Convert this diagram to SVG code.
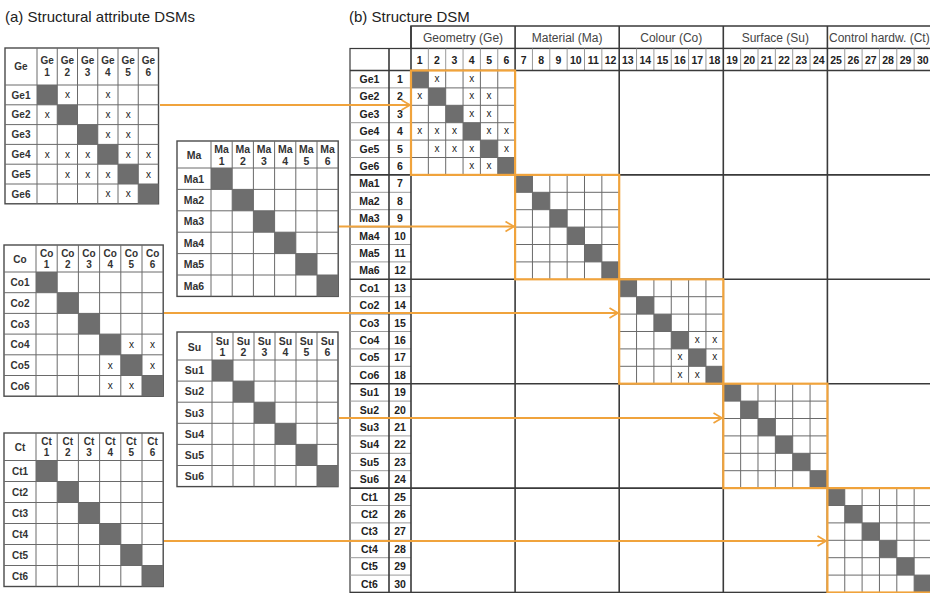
<svg xmlns="http://www.w3.org/2000/svg" xmlns:xlink="http://www.w3.org/1999/xlink" width="930" height="593" viewBox="0 0 930 593">
<style>
text{font-family:"Liberation Sans",Arial,sans-serif;fill:#2a2a2a}
.title{font-size:15px;fill:#222}
.s{font-size:10px;font-weight:bold;text-anchor:middle;fill:#333}
.m{font-size:10.5px;font-weight:bold;text-anchor:middle;fill:#333}
.n{font-size:10.5px;font-weight:bold;text-anchor:middle;fill:#222}
.x{font-size:10px;text-anchor:middle;fill:#222}
.hdr{font-size:12px;text-anchor:middle;fill:#444}
.grid{stroke:#6a6a6a;stroke-width:1;fill:none}
.lgrid{stroke:#9a9a9a;stroke-width:1;fill:none}
.frame{stroke:#4a4a4a;stroke-width:1.4;fill:#fff}
.dark{stroke:#3a3a3a;stroke-width:1.6;fill:none}
.sh{fill:#6e6e6e}
.arr{stroke:#F0A33C;stroke-width:1.8;fill:none;marker-end:url(#ah)}
</style>
<defs>
<marker id="ah" markerUnits="userSpaceOnUse" markerWidth="11" markerHeight="12" refX="9.5" refY="6" orient="auto"><path d="M1,1 L9.5,6 L1,11" fill="none" stroke="#F0A33C" stroke-width="1.7"/></marker>
<g id="blk">
<rect width="104.1" height="104.4" fill="#fff"/>
<rect x="0" y="0" width="17.35" height="17.4" fill="#6e6e6e"/>
<rect x="17.35" y="17.4" width="17.35" height="17.4" fill="#6e6e6e"/>
<rect x="34.7" y="34.8" width="17.35" height="17.4" fill="#6e6e6e"/>
<rect x="52.05" y="52.2" width="17.35" height="17.4" fill="#6e6e6e"/>
<rect x="69.4" y="69.6" width="17.35" height="17.4" fill="#6e6e6e"/>
<rect x="86.75" y="87" width="17.35" height="17.4" fill="#6e6e6e"/>
<path d="M17.35,0V104.4M34.7,0V104.4M52.05,0V104.4M69.4,0V104.4M86.75,0V104.4M0,17.4H104.1M0,34.8H104.1M0,52.2H104.1M0,69.6H104.1M0,87H104.1" stroke="#6a6a6a" stroke-width="1" fill="none"/>
<rect width="104.1" height="104.4" fill="none" stroke="#F0A33C" stroke-width="2.2"/>
</g>
</defs>
<rect width="930" height="593" fill="#fff"/>
<text class="title" x="5" y="21.5">(a) Structural attribute DSMs</text>
<text class="title" x="349" y="21.5">(b) Structure DSM</text>

<g id="dsm-ge" transform="translate(5,48)">
<rect class="frame" width="153.5" height="155.8"/>
<rect class="sh" x="32" y="37" width="20.25" height="19.8"/>
<rect class="sh" x="52.25" y="56.8" width="20.25" height="19.8"/>
<rect class="sh" x="72.5" y="76.6" width="20.25" height="19.8"/>
<rect class="sh" x="92.75" y="96.4" width="20.25" height="19.8"/>
<rect class="sh" x="113" y="116.2" width="20.25" height="19.8"/>
<rect class="sh" x="133.25" y="136" width="20.25" height="19.8"/>
<path class="grid" d="M32,0V155.8M52.25,0V155.8M72.5,0V155.8M92.75,0V155.8M113,0V155.8M133.25,0V155.8M0,37H153.5M0,56.8H153.5M0,76.6H153.5M0,96.4H153.5M0,116.2H153.5M0,136H153.5"/>
<text class="s" x="16" y="22">Ge</text>
<text class="s"><tspan x="42.13" y="16">Ge</tspan><tspan x="42.13" y="28">1</tspan></text>
<text class="s"><tspan x="62.38" y="16">Ge</tspan><tspan x="62.38" y="28">2</tspan></text>
<text class="s"><tspan x="82.63" y="16">Ge</tspan><tspan x="82.63" y="28">3</tspan></text>
<text class="s"><tspan x="102.88" y="16">Ge</tspan><tspan x="102.88" y="28">4</tspan></text>
<text class="s"><tspan x="123.13" y="16">Ge</tspan><tspan x="123.13" y="28">5</tspan></text>
<text class="s"><tspan x="143.38" y="16">Ge</tspan><tspan x="143.38" y="28">6</tspan></text>
<text class="s" x="16" y="50.6">Ge1</text>
<text class="s" x="16" y="70.4">Ge2</text>
<text class="s" x="16" y="90.2">Ge3</text>
<text class="s" x="16" y="110">Ge4</text>
<text class="s" x="16" y="129.8">Ge5</text>
<text class="s" x="16" y="149.6">Ge6</text>
<text class="x" x="62.38" y="50.4">x</text><text class="x" x="102.88" y="50.4">x</text>
<text class="x" x="42.13" y="70.2">x</text><text class="x" x="102.88" y="70.2">x</text><text class="x" x="123.13" y="70.2">x</text>
<text class="x" x="102.88" y="90">x</text><text class="x" x="123.13" y="90">x</text>
<text class="x" x="42.13" y="109.8">x</text><text class="x" x="62.38" y="109.8">x</text><text class="x" x="82.63" y="109.8">x</text><text class="x" x="123.13" y="109.8">x</text><text class="x" x="143.38" y="109.8">x</text>
<text class="x" x="62.38" y="129.6">x</text><text class="x" x="82.63" y="129.6">x</text><text class="x" x="102.88" y="129.6">x</text><text class="x" x="143.38" y="129.6">x</text>
<text class="x" x="102.88" y="149.4">x</text><text class="x" x="123.13" y="149.4">x</text>
</g>

<g id="dsm-ma" transform="translate(177,141)">
<rect class="frame" width="161.2" height="155.4"/>
<rect class="sh" x="34" y="27" width="21.2" height="21.4"/>
<rect class="sh" x="55.2" y="48.4" width="21.2" height="21.4"/>
<rect class="sh" x="76.4" y="69.8" width="21.2" height="21.4"/>
<rect class="sh" x="97.6" y="91.2" width="21.2" height="21.4"/>
<rect class="sh" x="118.8" y="112.6" width="21.2" height="21.4"/>
<rect class="sh" x="140" y="134" width="21.2" height="21.4"/>
<path class="grid" d="M34,0V155.4M55.2,0V155.4M76.4,0V155.4M97.6,0V155.4M118.8,0V155.4M140,0V155.4M0,27H161.2M0,48.4H161.2M0,69.8H161.2M0,91.2H161.2M0,112.6H161.2M0,134H161.2"/>
<text class="m" x="17" y="18">Ma</text>
<text class="m"><tspan x="44.6" y="12">Ma</tspan><tspan x="44.6" y="23.5">1</tspan></text>
<text class="m"><tspan x="65.8" y="12">Ma</tspan><tspan x="65.8" y="23.5">2</tspan></text>
<text class="m"><tspan x="87" y="12">Ma</tspan><tspan x="87" y="23.5">3</tspan></text>
<text class="m"><tspan x="108.2" y="12">Ma</tspan><tspan x="108.2" y="23.5">4</tspan></text>
<text class="m"><tspan x="129.4" y="12">Ma</tspan><tspan x="129.4" y="23.5">5</tspan></text>
<text class="m"><tspan x="150.6" y="12">Ma</tspan><tspan x="150.6" y="23.5">6</tspan></text>
<text class="m" x="17" y="41.5">Ma1</text>
<text class="m" x="17" y="62.9">Ma2</text>
<text class="m" x="17" y="84.3">Ma3</text>
<text class="m" x="17" y="105.7">Ma4</text>
<text class="m" x="17" y="127.1">Ma5</text>
<text class="m" x="17" y="148.5">Ma6</text>
</g>

<g id="dsm-co" transform="translate(4,245)">
<rect class="frame" width="159.2" height="151.2"/>
<rect class="sh" x="32" y="27" width="21.2" height="20.7"/>
<rect class="sh" x="53.2" y="47.7" width="21.2" height="20.7"/>
<rect class="sh" x="74.4" y="68.4" width="21.2" height="20.7"/>
<rect class="sh" x="95.6" y="89.1" width="21.2" height="20.7"/>
<rect class="sh" x="116.8" y="109.8" width="21.2" height="20.7"/>
<rect class="sh" x="138" y="130.5" width="21.2" height="20.7"/>
<path class="grid" d="M32,0V151.2M53.2,0V151.2M74.4,0V151.2M95.6,0V151.2M116.8,0V151.2M138,0V151.2M0,27H159.2M0,47.7H159.2M0,68.4H159.2M0,89.1H159.2M0,109.8H159.2M0,130.5H159.2"/>
<text class="s" x="16" y="17.5">Co</text>
<text class="s"><tspan x="42.6" y="11.5">Co</tspan><tspan x="42.6" y="22.5">1</tspan></text>
<text class="s"><tspan x="63.8" y="11.5">Co</tspan><tspan x="63.8" y="22.5">2</tspan></text>
<text class="s"><tspan x="85" y="11.5">Co</tspan><tspan x="85" y="22.5">3</tspan></text>
<text class="s"><tspan x="106.2" y="11.5">Co</tspan><tspan x="106.2" y="22.5">4</tspan></text>
<text class="s"><tspan x="127.4" y="11.5">Co</tspan><tspan x="127.4" y="22.5">5</tspan></text>
<text class="s"><tspan x="148.6" y="11.5">Co</tspan><tspan x="148.6" y="22.5">6</tspan></text>
<text class="s" x="16" y="41.1">Co1</text>
<text class="s" x="16" y="61.8">Co2</text>
<text class="s" x="16" y="82.5">Co3</text>
<text class="s" x="16" y="103.2">Co4</text>
<text class="s" x="16" y="123.9">Co5</text>
<text class="s" x="16" y="144.6">Co6</text>
<text class="x" x="127.4" y="103">x</text><text class="x" x="148.6" y="103">x</text>
<text class="x" x="106.2" y="123.7">x</text><text class="x" x="148.6" y="123.7">x</text>
<text class="x" x="106.2" y="144.4">x</text><text class="x" x="127.4" y="144.4">x</text>
</g>

<g id="dsm-su" transform="translate(177,332)">
<rect class="frame" width="161" height="154.6"/>
<rect class="sh" x="35" y="28" width="21" height="21.1"/>
<rect class="sh" x="56" y="49.1" width="21" height="21.1"/>
<rect class="sh" x="77" y="70.2" width="21" height="21.1"/>
<rect class="sh" x="98" y="91.3" width="21" height="21.1"/>
<rect class="sh" x="119" y="112.4" width="21" height="21.1"/>
<rect class="sh" x="140" y="133.5" width="21" height="21.1"/>
<path class="grid" d="M35,0V154.6M56,0V154.6M77,0V154.6M98,0V154.6M119,0V154.6M140,0V154.6M0,28H161M0,49.1H161M0,70.2H161M0,91.3H161M0,112.4H161M0,133.5H161"/>
<text class="m" x="17.5" y="19">Su</text>
<text class="m"><tspan x="45.5" y="12.5">Su</tspan><tspan x="45.5" y="24">1</tspan></text>
<text class="m"><tspan x="66.5" y="12.5">Su</tspan><tspan x="66.5" y="24">2</tspan></text>
<text class="m"><tspan x="87.5" y="12.5">Su</tspan><tspan x="87.5" y="24">3</tspan></text>
<text class="m"><tspan x="108.5" y="12.5">Su</tspan><tspan x="108.5" y="24">4</tspan></text>
<text class="m"><tspan x="129.5" y="12.5">Su</tspan><tspan x="129.5" y="24">5</tspan></text>
<text class="m"><tspan x="150.5" y="12.5">Su</tspan><tspan x="150.5" y="24">6</tspan></text>
<text class="m" x="17.5" y="42.3">Su1</text>
<text class="m" x="17.5" y="63.4">Su2</text>
<text class="m" x="17.5" y="84.5">Su3</text>
<text class="m" x="17.5" y="105.6">Su4</text>
<text class="m" x="17.5" y="126.7">Su5</text>
<text class="m" x="17.5" y="147.8">Su6</text>
</g>

<g id="dsm-ct" transform="translate(4,433)">
<rect class="frame" width="159.2" height="153.5"/>
<rect class="sh" x="32" y="27.5" width="21.2" height="21"/>
<rect class="sh" x="53.2" y="48.5" width="21.2" height="21"/>
<rect class="sh" x="74.4" y="69.5" width="21.2" height="21"/>
<rect class="sh" x="95.6" y="90.5" width="21.2" height="21"/>
<rect class="sh" x="116.8" y="111.5" width="21.2" height="21"/>
<rect class="sh" x="138" y="132.5" width="21.2" height="21"/>
<path class="grid" d="M32,0V153.5M53.2,0V153.5M74.4,0V153.5M95.6,0V153.5M116.8,0V153.5M138,0V153.5M0,27.5H159.2M0,48.5H159.2M0,69.5H159.2M0,90.5H159.2M0,111.5H159.2M0,132.5H159.2"/>
<text class="s" x="16" y="18">Ct</text>
<text class="s"><tspan x="42.6" y="11.5">Ct</tspan><tspan x="42.6" y="23">1</tspan></text>
<text class="s"><tspan x="63.8" y="11.5">Ct</tspan><tspan x="63.8" y="23">2</tspan></text>
<text class="s"><tspan x="85" y="11.5">Ct</tspan><tspan x="85" y="23">3</tspan></text>
<text class="s"><tspan x="106.2" y="11.5">Ct</tspan><tspan x="106.2" y="23">4</tspan></text>
<text class="s"><tspan x="127.4" y="11.5">Ct</tspan><tspan x="127.4" y="23">5</tspan></text>
<text class="s"><tspan x="148.6" y="11.5">Ct</tspan><tspan x="148.6" y="23">6</tspan></text>
<text class="s" x="16" y="41.7">Ct1</text>
<text class="s" x="16" y="62.7">Ct2</text>
<text class="s" x="16" y="83.7">Ct3</text>
<text class="s" x="16" y="104.7">Ct4</text>
<text class="s" x="16" y="125.7">Ct5</text>
<text class="s" x="16" y="146.7">Ct6</text>
</g>

<g id="structure-dsm">
<rect x="411" y="26" width="520.5" height="22.5" fill="#fff" stroke="#3a3a3a" stroke-width="1.5"/>
<rect x="350" y="48.5" width="581.5" height="544" fill="#fff" stroke="#3a3a3a" stroke-width="1.2"/>
<path class="lgrid" d="M428.35,48.5V70.5M445.7,48.5V70.5M463.05,48.5V70.5M480.4,48.5V70.5M497.75,48.5V70.5M532.45,48.5V70.5M549.8,48.5V70.5M567.15,48.5V70.5M584.5,48.5V70.5M601.85,48.5V70.5M636.55,48.5V70.5M653.9,48.5V70.5M671.25,48.5V70.5M688.6,48.5V70.5M705.95,48.5V70.5M740.65,48.5V70.5M758,48.5V70.5M775.35,48.5V70.5M792.7,48.5V70.5M810.05,48.5V70.5M844.75,48.5V70.5M862.1,48.5V70.5M879.45,48.5V70.5M896.8,48.5V70.5M914.15,48.5V70.5"/>
<path class="lgrid" d="M350,87.9H411M350,105.3H411M350,122.7H411M350,140.1H411M350,157.5H411M350,192.3H411M350,209.7H411M350,227.1H411M350,244.5H411M350,261.9H411M350,296.7H411M350,314.1H411M350,331.5H411M350,348.9H411M350,366.3H411M350,401.1H411M350,418.5H411M350,435.9H411M350,453.3H411M350,470.7H411M350,505.5H411M350,522.9H411M350,540.3H411M350,557.7H411M350,575.1H411"/>
<path class="dark" d="M389,48.5V592.5M411,26V592.5M515.1,26V592.5M619.2,26V592.5M723.3,26V592.5M827.4,26V592.5M350,70.5H931.5M350,174.9H931.5M350,279.3H931.5M350,383.7H931.5M350,488.1H931.5M350,592.5H931.5"/>
<text class="hdr" x="463.05" y="42">Geometry (Ge)</text>
<text class="hdr" x="567.15" y="42">Material (Ma)</text>
<text class="hdr" x="671.25" y="42">Colour (Co)</text>
<text class="hdr" x="775.35" y="42">Surface (Su)</text>
<text class="hdr" x="829" y="42" style="text-anchor:start">Control hardw. (Ct)</text>
<text class="n" x="419.68" y="64">1</text><text class="n" x="437.03" y="64">2</text><text class="n" x="454.38" y="64">3</text><text class="n" x="471.73" y="64">4</text><text class="n" x="489.08" y="64">5</text><text class="n" x="506.43" y="64">6</text>
<text class="n" x="523.78" y="64">7</text><text class="n" x="541.13" y="64">8</text><text class="n" x="558.48" y="64">9</text><text class="n" x="575.83" y="64">10</text><text class="n" x="593.18" y="64">11</text><text class="n" x="610.53" y="64">12</text>
<text class="n" x="627.88" y="64">13</text><text class="n" x="645.23" y="64">14</text><text class="n" x="662.58" y="64">15</text><text class="n" x="679.93" y="64">16</text><text class="n" x="697.28" y="64">17</text><text class="n" x="714.63" y="64">18</text>
<text class="n" x="731.98" y="64">19</text><text class="n" x="749.33" y="64">20</text><text class="n" x="766.68" y="64">21</text><text class="n" x="784.03" y="64">22</text><text class="n" x="801.38" y="64">23</text><text class="n" x="818.73" y="64">24</text>
<text class="n" x="836.08" y="64">25</text><text class="n" x="853.43" y="64">26</text><text class="n" x="870.78" y="64">27</text><text class="n" x="888.13" y="64">28</text><text class="n" x="905.48" y="64">29</text><text class="n" x="922.83" y="64">30</text>
<text class="n" x="369.5" y="83">Ge1</text><text class="n" x="400" y="83">1</text>
<text class="n" x="369.5" y="100.4">Ge2</text><text class="n" x="400" y="100.4">2</text>
<text class="n" x="369.5" y="117.8">Ge3</text><text class="n" x="400" y="117.8">3</text>
<text class="n" x="369.5" y="135.2">Ge4</text><text class="n" x="400" y="135.2">4</text>
<text class="n" x="369.5" y="152.6">Ge5</text><text class="n" x="400" y="152.6">5</text>
<text class="n" x="369.5" y="170">Ge6</text><text class="n" x="400" y="170">6</text>
<text class="n" x="369.5" y="187.4">Ma1</text><text class="n" x="400" y="187.4">7</text>
<text class="n" x="369.5" y="204.8">Ma2</text><text class="n" x="400" y="204.8">8</text>
<text class="n" x="369.5" y="222.2">Ma3</text><text class="n" x="400" y="222.2">9</text>
<text class="n" x="369.5" y="239.6">Ma4</text><text class="n" x="400" y="239.6">10</text>
<text class="n" x="369.5" y="257">Ma5</text><text class="n" x="400" y="257">11</text>
<text class="n" x="369.5" y="274.4">Ma6</text><text class="n" x="400" y="274.4">12</text>
<text class="n" x="369.5" y="291.8">Co1</text><text class="n" x="400" y="291.8">13</text>
<text class="n" x="369.5" y="309.2">Co2</text><text class="n" x="400" y="309.2">14</text>
<text class="n" x="369.5" y="326.6">Co3</text><text class="n" x="400" y="326.6">15</text>
<text class="n" x="369.5" y="344">Co4</text><text class="n" x="400" y="344">16</text>
<text class="n" x="369.5" y="361.4">Co5</text><text class="n" x="400" y="361.4">17</text>
<text class="n" x="369.5" y="378.8">Co6</text><text class="n" x="400" y="378.8">18</text>
<text class="n" x="369.5" y="396.2">Su1</text><text class="n" x="400" y="396.2">19</text>
<text class="n" x="369.5" y="413.6">Su2</text><text class="n" x="400" y="413.6">20</text>
<text class="n" x="369.5" y="431">Su3</text><text class="n" x="400" y="431">21</text>
<text class="n" x="369.5" y="448.4">Su4</text><text class="n" x="400" y="448.4">22</text>
<text class="n" x="369.5" y="465.8">Su5</text><text class="n" x="400" y="465.8">23</text>
<text class="n" x="369.5" y="483.2">Su6</text><text class="n" x="400" y="483.2">24</text>
<text class="n" x="369.5" y="500.6">Ct1</text><text class="n" x="400" y="500.6">25</text>
<text class="n" x="369.5" y="518">Ct2</text><text class="n" x="400" y="518">26</text>
<text class="n" x="369.5" y="535.4">Ct3</text><text class="n" x="400" y="535.4">27</text>
<text class="n" x="369.5" y="552.8">Ct4</text><text class="n" x="400" y="552.8">28</text>
<text class="n" x="369.5" y="570.2">Ct5</text><text class="n" x="400" y="570.2">29</text>
<text class="n" x="369.5" y="587.6">Ct6</text><text class="n" x="400" y="587.6">30</text>
</g>

<g id="block-ge">
<use href="#blk" xlink:href="#blk" x="411" y="70.5"/>
<text class="x" x="437.03" y="82">x</text><text class="x" x="471.73" y="82">x</text>
<text class="x" x="419.68" y="99.4">x</text><text class="x" x="471.73" y="99.4">x</text><text class="x" x="489.08" y="99.4">x</text>
<text class="x" x="471.73" y="116.8">x</text><text class="x" x="489.08" y="116.8">x</text>
<text class="x" x="419.68" y="134.2">x</text><text class="x" x="437.03" y="134.2">x</text><text class="x" x="454.38" y="134.2">x</text><text class="x" x="489.08" y="134.2">x</text><text class="x" x="506.43" y="134.2">x</text>
<text class="x" x="437.03" y="151.6">x</text><text class="x" x="454.38" y="151.6">x</text><text class="x" x="471.73" y="151.6">x</text><text class="x" x="506.43" y="151.6">x</text>
<text class="x" x="471.73" y="169">x</text><text class="x" x="489.08" y="169">x</text>
</g>
<g id="block-ma"><use href="#blk" xlink:href="#blk" x="515.1" y="174.9"/></g>
<g id="block-co">
<use href="#blk" xlink:href="#blk" x="619.2" y="279.3"/>
<text class="x" x="697.28" y="343">x</text><text class="x" x="714.63" y="343">x</text>
<text class="x" x="679.93" y="360.4">x</text><text class="x" x="714.63" y="360.4">x</text>
<text class="x" x="679.93" y="377.8">x</text><text class="x" x="697.28" y="377.8">x</text>
</g>
<g id="block-su"><use href="#blk" xlink:href="#blk" x="723.3" y="383.7"/></g>
<g id="block-ct"><use href="#blk" xlink:href="#blk" x="827.4" y="488.1"/></g>

<g id="connectors">
<path class="arr" d="M160,105H410"/>
<path class="arr" d="M339,226.5H514"/>
<path class="arr" d="M164,313H618"/>
<path class="arr" d="M339,418H722"/>
<path class="arr" d="M164,541H826"/>
</g>
</svg>
